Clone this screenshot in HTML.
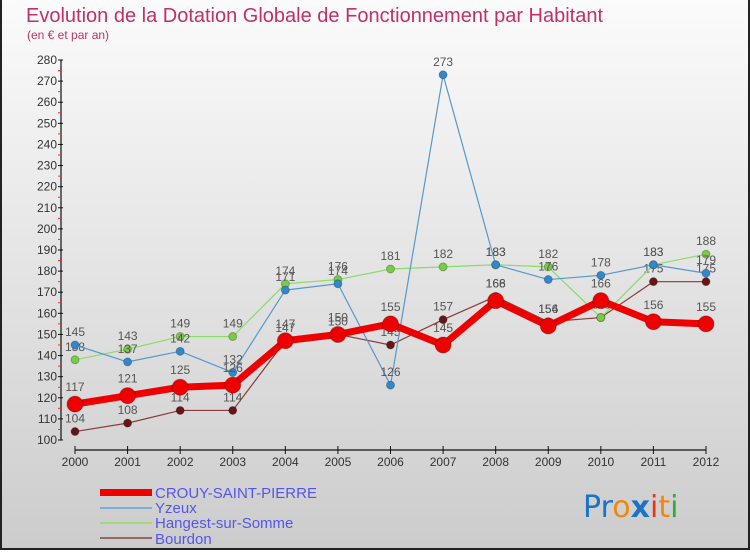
<!DOCTYPE html>
<html><head><meta charset="utf-8"><style>
html,body{margin:0;padding:0;}
body{width:750px;height:550px;overflow:hidden;font-family:"Liberation Sans",sans-serif;}
</style></head><body>
<svg width="750" height="550" viewBox="0 0 750 550" xmlns="http://www.w3.org/2000/svg">
<defs><linearGradient id="bg" x1="0" y1="0" x2="0" y2="1"><stop offset="0" stop-color="#fbfbfb"/><stop offset="1" stop-color="#cccccc"/></linearGradient></defs>
<rect x="0" y="0" width="750" height="550" fill="url(#bg)"/>
<path d="M1 0V549H749V0" fill="none" stroke="#222" stroke-width="2"/>
<text x="26" y="22" font-size="20" fill="#c0306a">Evolution de la Dotation Globale de Fonctionnement par Habitant</text>
<text x="27" y="39" font-size="12" fill="#c0306a">(en € et par an)</text>
<g id="axes"></g>
<g id="series"></g>
<g>
<rect x="100" y="489" width="52" height="7" fill="#e00"/>
<text x="155" y="498" font-size="15" fill="#5555ee">CROUY-SAINT-PIERRE</text>
<line x1="100" y1="508" x2="152" y2="508" stroke="#7aaed8" stroke-width="2"/>
<text x="155" y="513" font-size="15" fill="#5555ee">Yzeux</text>
<line x1="100" y1="523" x2="152" y2="523" stroke="#99dd77" stroke-width="2"/>
<text x="155" y="528" font-size="15" fill="#5555ee">Hangest-sur-Somme</text>
<line x1="100" y1="538" x2="152" y2="538" stroke="#996666" stroke-width="2"/>
<text x="155" y="544" font-size="15" fill="#5555ee">Bourdon</text>
</g>
<g font-size="30" font-family="DejaVu Sans, sans-serif">
<text x="583" y="517"><tspan fill="#1a73c8">Pr</tspan><tspan fill="#ee8811">o</tspan><tspan fill="#1a73c8" font-weight="bold">x</tspan><tspan fill="#ee3311">i</tspan><tspan fill="#ee8811">t</tspan><tspan fill="#33aa33">i</tspan></text>
</g>
</svg>
<script>
const years=[2000,2001,2002,2003,2004,2005,2006,2007,2008,2009,2010,2011,2012];
const yTicks=[100,110,120,130,140,150,160,170,180,190,200,210,220,230,240,250,260,270,280];
const crouy=[117,121,125,126,147,150,155,145,166,154,166,156,155];
const yzeux=[145,137,142,132,171,174,126,273,183,176,178,183,179];
const hangest=[138,143,149,149,174,176,181,182,183,182,158,183,188];
const bourdon=[104,108,114,114,147,150,145,157,168,156,158,175,175];
const NS='http://www.w3.org/2000/svg';
function xS(i){return 75+i*(706-75)/(years.length-1);}
function yS(v){return 440-(v-100)*(380/180);}
function mk(tag,attrs,parent){const e=document.createElementNS(NS,tag);for(const k in attrs)e.setAttribute(k,attrs[k]);parent.appendChild(e);return e;}
const axes=document.getElementById('axes');
const ya=mk('line',{x1:61,y1:yS(280),x2:61,y2:yS(100),stroke:'#111','stroke-width':1.2},axes);


yTicks.forEach(t=>{
  const l=mk('line',{x1:58,y1:yS(t),x2:63,y2:yS(t),stroke:'#111'},axes);
  
  
  if(t<280){const m=mk('line',{x1:58,y1:yS(t+5),x2:61,y2:yS(t+5),stroke:'#e33'},axes);
  
  }
  const tx=mk('text',{x:57,y:yS(t)+4,'text-anchor':'end','font-size':12,fill:'#333'},axes);
  tx.textContent=t;
  
  
});
const xa=mk('line',{x1:75,y1:450,x2:706,y2:450,stroke:'#111','stroke-width':1.2},axes);


years.forEach((y,i)=>{
  const l=mk('line',{x1:xS(i),y1:446,x2:xS(i),y2:454,stroke:'#111'},axes);
  
  
  const tx=mk('text',{x:xS(i),y:466,'text-anchor':'middle','font-size':12,fill:'#333'},axes);
  tx.textContent=y;
  
  
});
const ser=document.getElementById('series');
function draw(data,name,color,w,r,dot){
  const g=mk('g',{},ser);
  
  
  const p=mk('polyline',{points:data.map((v,i)=>xS(i)+','+yS(v)).join(' '),fill:'none',stroke:color,'stroke-width':w,'stroke-linejoin':'round'},g);
  
  
  data.forEach((v,i)=>{
    const c=mk('circle',{cx:xS(i),cy:yS(v),r:r,fill:dot,stroke:'rgba(0,0,0,0.25)'},g);
    
    
    const t=mk('text',{x:xS(i),y:yS(v)-9-(r>5?4:0),'text-anchor':'middle','font-size':12,fill:'#555'},g);
    t.textContent=v;
    
    
  });
}
draw(bourdon,'bourdon','#8a3a3a',1.2,4,'#6a1515');
draw(hangest,'hangest','#88dd66',1.2,4,'#77cc44');
draw(yzeux,'yzeux','#5599cc',1.2,4,'#3388cc');
draw(crouy,'crouy','#ee0000',7,8,'#ee0000');
</script>
</body></html>
